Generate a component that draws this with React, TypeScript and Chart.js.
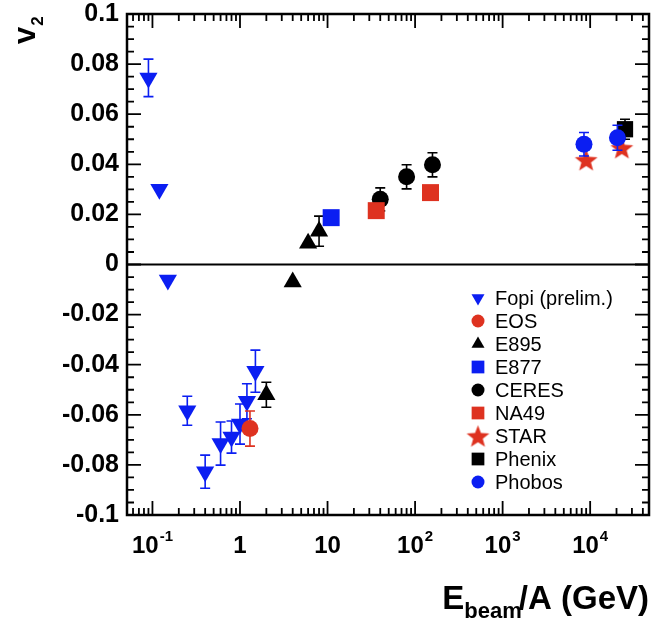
import React, { useEffect, useRef } from 'react';
import { Chart, registerables } from 'chart.js';
import { drawPoint } from 'chart.js/helpers';

Chart.register(...registerables);

const FONT = "'Liberation Sans', Arial, Helvetica, sans-serif";
const BLUE = '#0b1ef2';
const RED = '#de3220';
const BLACK = '#000000';

// ---------------- data (E_beam/A in GeV, v2, symmetric error) ----------------
const fopiX = [0.09, 0.12, 0.15, 0.25, 0.4, 0.6, 0.8, 1.0, 1.2, 1.5];
const fopiY = [0.0745, 0.03, -0.0062, -0.0584, -0.0827, -0.0715, -0.0689, -0.0637, -0.0546, -0.0426];
const fopiErr = [0.0075, 0, 0, 0.0058, 0.0066, 0.0086, 0.0064, 0.008, 0.007, 0.0084];

const eosX = [1.3];
const eosY = [-0.0655];
const eosErr = [0.007];

const e895X = [2, 4, 6, 8];
const e895Y = [-0.052, -0.007, 0.0085, 0.0133];
const e895Err = [0.005, 0, 0, 0.006];

const e877X = [11];
const e877Y = [0.0187];
const e877Err = [0];

const ceresX = [40, 80, 158];
const ceresY = [0.026, 0.035, 0.0398];
const ceresErr = [0.0046, 0.0048, 0.0048];

const na49X = [36, 150];
const na49Y = [0.0215, 0.0287];
const na49Err = [0, 0];

const starX = [9000, 23000];
const starY = [0.0418, 0.0466];
const starErr = [0, 0];

const phenixX = [25000];
const phenixY = [0.054];
const phenixErr = [0.004];

const phobosX = [8500, 20500];
const phobosY = [0.048, 0.0506];
const phobosErr = [0.0047, 0.005];

const seriesNames = ['Fopi (prelim.)', 'EOS', 'E895', 'E877', 'CERES', 'NA49', 'STAR', 'Phenix', 'Phobos'];

// axis ticks
const xMin = 0.0512;
const xMax = 47000;
const xMajorTicks = [0.1, 1, 10, 100, 1000, 10000];
const xTickBase = ['10', '1', '10', '10', '10', '10'];
const xTickExp = ['-1', '', '', '2', '3', '4'];
const yMin = -0.1;
const yMax = 0.1;
const yMajorStep = 0.02;
const yMinorStep = 0.005;

const PLOT_RIGHT = 649;

function makeStar(size: number, color: string): HTMLCanvasElement {
  const c = document.createElement('canvas');
  c.width = size;
  c.height = size;
  const g = c.getContext('2d')!;
  const R = size / 2 - 0.5;
  const r = R * 0.42;
  const cx = size / 2;
  const cy = size / 2 + R * 0.095;
  g.beginPath();
  for (let i = 0; i < 10; i++) {
    const a = -Math.PI / 2 + (i * Math.PI) / 5;
    const rad = i % 2 ? r : R;
    g.lineTo(cx + rad * Math.cos(a), cy + rad * Math.sin(a));
  }
  g.closePath();
  g.fillStyle = color;
  g.fill();
  return c;
}

const fmtY = (v: number) => {
  const r = Math.round(v * 100) / 100;
  return r === 0 ? '0' : String(r);
};

const pts = (xs: number[], ys: number[]) => xs.map((x, i) => ({ x, y: ys[i] }));

const rootPlugin = {
  id: 'rootStyle',
  afterLayout(chart: any) {
    const ca = chart.chartArea;
    ca.right = PLOT_RIGHT;
    ca.width = ca.right - ca.left;
    const xs = chart.scales.x;
    xs.left = ca.left;
    xs.right = PLOT_RIGHT;
    xs.width = xs.right - xs.left;
    xs.configure();
  },
  beforeDatasetsDraw(chart: any) {
    const { ctx, chartArea } = chart;
    const y0 = chart.scales.y.getPixelForValue(0);
    ctx.save();
    ctx.strokeStyle = '#000';
    ctx.lineWidth = 2.2;
    ctx.beginPath();
    ctx.moveTo(chartArea.left, y0);
    ctx.lineTo(chartArea.right, y0);
    ctx.stroke();
    ctx.restore();
  },
  beforeDatasetDraw(chart: any, args: any) {
    const ds = chart.data.datasets[args.index];
    const errs: number[] = ds.errs || [];
    const xs = chart.scales.x;
    const ys = chart.scales.y;
    const ctx = chart.ctx;
    ctx.save();
    ctx.strokeStyle = ds.errColor;
    ctx.lineWidth = 1.6;
    ds.data.forEach((p: any, i: number) => {
      const e = errs[i];
      if (!e) return;
      const px = xs.getPixelForValue(p.x);
      const y1 = ys.getPixelForValue(p.y + e);
      const y2 = ys.getPixelForValue(p.y - e);
      ctx.beginPath();
      ctx.moveTo(px, y1);
      ctx.lineTo(px, y2);
      ctx.moveTo(px - 5, y1);
      ctx.lineTo(px + 5, y1);
      ctx.moveTo(px - 5, y2);
      ctx.lineTo(px + 5, y2);
      ctx.stroke();
    });
    ctx.restore();
  },
  afterDraw(chart: any) {
    const { ctx, chartArea } = chart;
    const { left, right, top, bottom } = chartArea;
    const xs = chart.scales.x;
    const ys = chart.scales.y;
    ctx.save();
    ctx.strokeStyle = '#000';
    ctx.fillStyle = '#000';

    // ticks (inward, on all four sides)
    ctx.lineWidth = 1.8;
    const MAJ = 14;
    const MIN = 7;
    ctx.beginPath();
    for (let e = -2; e <= 5; e++) {
      const d = Math.pow(10, e);
      for (let k = 1; k <= 9; k++) {
        const v = k * d;
        if (v < xMin || v > xMax) continue;
        const px = xs.getPixelForValue(v);
        const len = k === 1 ? MAJ : MIN;
        ctx.moveTo(px, bottom);
        ctx.lineTo(px, bottom - len);
        ctx.moveTo(px, top);
        ctx.lineTo(px, top + len);
      }
    }
    const nMinor = Math.round((yMax - yMin) / yMinorStep);
    const perMajor = Math.round(yMajorStep / yMinorStep);
    for (let i = 0; i <= nMinor; i++) {
      const v = yMin + i * yMinorStep;
      const py = ys.getPixelForValue(v);
      const len = i % perMajor === 0 ? MAJ : MIN;
      ctx.moveTo(left, py);
      ctx.lineTo(left + len, py);
      ctx.moveTo(right, py);
      ctx.lineTo(right - len, py);
    }
    ctx.stroke();

    // frame
    ctx.lineWidth = 2.5;
    ctx.strokeRect(left, top, right - left, bottom - top);

    // x tick labels with exponents
    ctx.textBaseline = 'alphabetic';
    ctx.textAlign = 'left';
    xMajorTicks.forEach((v, i) => {
      const px = xs.getPixelForValue(v);
      ctx.font = `bold 24px ${FONT}`;
      const wb = ctx.measureText(xTickBase[i]).width;
      ctx.font = `bold 15px ${FONT}`;
      const we = xTickExp[i] ? ctx.measureText(xTickExp[i]).width + 1 : 0;
      const x0 = px - (wb + we) / 2;
      ctx.font = `bold 24px ${FONT}`;
      ctx.fillText(xTickBase[i], x0, bottom + 38);
      if (xTickExp[i]) {
        ctx.font = `bold 15px ${FONT}`;
        ctx.fillText(xTickExp[i], x0 + wb + 1, bottom + 26);
      }
    });

    // x axis title: E_beam/A (GeV), right aligned
    const mainF = `bold 33px ${FONT}`;
    const subF = `bold 22px ${FONT}`;
    ctx.font = mainF;
    const wE = ctx.measureText('E').width;
    const wRest = ctx.measureText('/A (GeV)').width;
    ctx.font = subF;
    const wSub = ctx.measureText('beam').width;
    const endX = 649;
    const startX = endX - wRest - wSub - wE + 3;
    const baseY = 609;
    ctx.font = mainF;
    ctx.fillText('E', startX, baseY);
    ctx.font = subF;
    ctx.fillText('beam', startX + wE, baseY + 9);
    ctx.font = mainF;
    ctx.fillText('/A (GeV)', startX + wE + wSub - 3, baseY);

    // y axis title: v_2 (rotated)
    ctx.save();
    ctx.translate(35, 44);
    ctx.rotate(-Math.PI / 2);
    ctx.font = `bold 31px ${FONT}`;
    ctx.fillText('v', 0, 0);
    const wv = ctx.measureText('v').width;
    ctx.font = `bold 17px ${FONT}`;
    ctx.fillText('2', wv + 1, 8);
    ctx.restore();

    // legend
    const mx = right - 171;
    const tx = right - 154;
    const y0 = top + 284;
    const step = 23;
    chart.data.datasets.forEach((ds: any, i: number) => {
      const cy = y0 + i * step;
      ctx.fillStyle = ds.pointBackgroundColor;
      ctx.strokeStyle = ds.pointBackgroundColor;
      drawPoint(ctx, { pointStyle: ds.pointStyle, rotation: ds.pointRotation || 0, radius: ds.legendRadius, borderWidth: 0 }, mx, cy);
      ctx.fillStyle = '#000';
      ctx.font = `20px ${FONT}`;
      ctx.textBaseline = 'middle';
      ctx.fillText(ds.label, tx, cy + 1);
    });
    ctx.restore();
  },
};

export default function App() {
  const ref = useRef<HTMLCanvasElement | null>(null);

  useEffect(() => {
    if (!ref.current) return;
    const starImg = makeStar(25, RED);
    const mk = (i: number, xs: number[], ys: number[], errs: number[], color: string, style: any, radius: number, legendRadius: number, rotation = 0, errColor = color) => ({
      label: seriesNames[i],
      data: pts(xs, ys),
      errs,
      errColor,
      pointStyle: style,
      pointRotation: rotation,
      pointRadius: radius,
      pointHoverRadius: radius,
      legendRadius,
      pointBackgroundColor: color,
      pointBorderColor: color,
      pointBorderWidth: 0,
      backgroundColor: color,
      borderColor: color,
      showLine: false,
      order: 9 - i,
    });
    const datasets = [
      mk(0, fopiX, fopiY, fopiErr, BLUE, 'triangle', 10.5, 7.5, 180),
      mk(1, eosX, eosY, eosErr, RED, 'circle', 8.5, 6.5),
      mk(2, e895X, e895Y, e895Err, BLACK, 'triangle', 10.5, 7.5),
      mk(3, e877X, e877Y, e877Err, BLUE, 'rect', 12, 9),
      mk(4, ceresX, ceresY, ceresErr, BLACK, 'circle', 8.5, 6.5),
      mk(5, na49X, na49Y, na49Err, RED, 'rect', 12, 9),
      mk(6, starX, starY, starErr, RED, starImg, 12, 12),
      mk(7, phenixX, phenixY, phenixErr, BLACK, 'rect', 11.5, 9),
      mk(8, phobosX, phobosY, phobosErr, BLUE, 'circle', 8.5, 6.5),
    ];
    const chart = new Chart(ref.current, {
      type: 'scatter',
      data: { datasets } as any,
      plugins: [rootPlugin as any],
      options: {
        animation: false,
        responsive: false,
        devicePixelRatio: 1,
        events: [],
        layout: { padding: { left: 0, top: 14, right: 3, bottom: 112 } },
        plugins: { legend: { display: false }, tooltip: { enabled: false } },
        scales: {
          x: {
            type: 'logarithmic',
            min: xMin,
            max: xMax,
            bounds: 'data',
            display: false,
          },
          y: {
            type: 'linear',
            min: yMin,
            max: yMax,
            afterFit(s: any) {
              s.width = 127;
              s.paddingTop = 0;
              s.paddingBottom = 0;
            },
            grid: { display: false, drawTicks: false, tickLength: 0 },
            border: { display: false },
            ticks: {
              stepSize: yMajorStep,
              padding: 8,
              color: '#000',
              font: { family: FONT, size: 25, weight: 'bold' },
              callback: (v: any) => fmtY(Number(v)),
            },
          },
        },
      } as any,
    });
    return () => chart.destroy();
  }, []);

  return (
    <div style={{ position: 'fixed', left: 0, top: 0, width: 652, height: 627, background: '#fff' }}>
      <canvas ref={ref} width={652} height={627} style={{ display: 'block' }} />
    </div>
  );
}
